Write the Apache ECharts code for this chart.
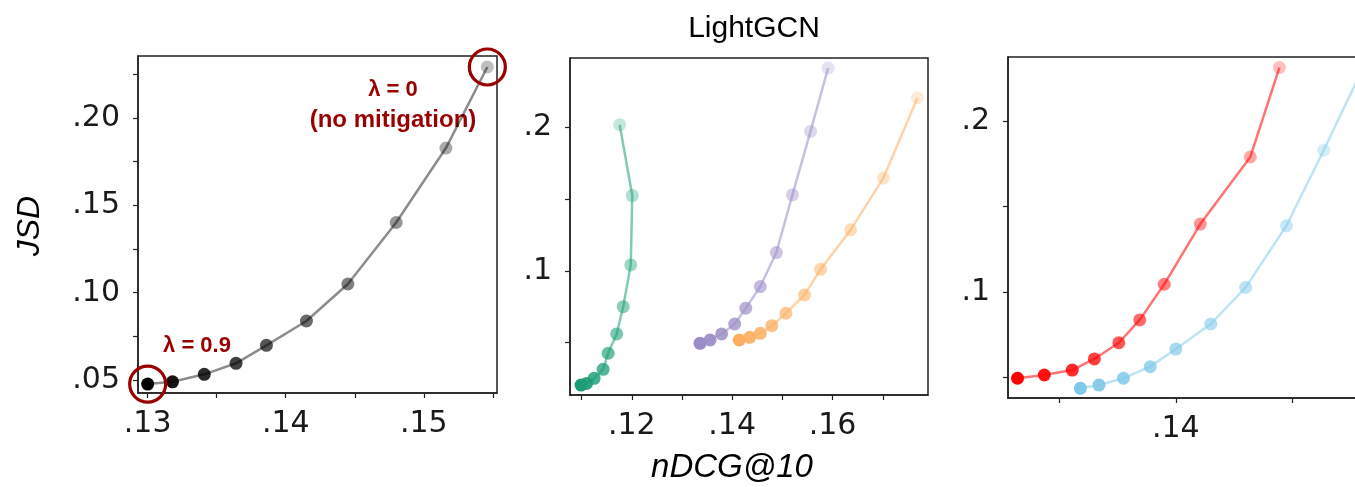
<!DOCTYPE html>
<html>
<head>
<meta charset="utf-8">
<script src="https://cdn.jsdelivr.net/npm/echarts@6/dist/echarts.min.js"></script>
<style>
  html, body { margin: 0; padding: 0; background: #fff; }
  #chart { width: 1355px; height: 487px; }
</style>
</head>
<body>
<div id="chart"></div>
<script>
// lambda per point, from 0 (no mitigation) to 0.9
const lambdas = [0, 0.1, 0.2, 0.3, 0.4, 0.5, 0.6, 0.7, 0.8, 0.9];

// panel 1 (gray)
const grayX = [0.1546, 0.1516, 0.1480, 0.1445, 0.1415, 0.1386, 0.1364, 0.1341, 0.1318, 0.1300];
const grayY = [0.2292, 0.1828, 0.1402, 0.1050, 0.0838, 0.0699, 0.0596, 0.0533, 0.0490, 0.0477];

// panel 2
const greenX = [0.1176, 0.1201, 0.1198, 0.1183, 0.1170, 0.1153, 0.1143, 0.1125, 0.1110, 0.1099];
const greenY = [0.2019, 0.1525, 0.1042, 0.0751, 0.0561, 0.0426, 0.0314, 0.0251, 0.0216, 0.0204];
const purpleX = [0.1591, 0.1556, 0.1520, 0.1488, 0.1456, 0.1427, 0.1405, 0.1379, 0.1356, 0.1336];
const purpleY = [0.2414, 0.1972, 0.1530, 0.1128, 0.0891, 0.0740, 0.0630, 0.0561, 0.0519, 0.0495];
const orangeX = [0.1769, 0.1701, 0.1636, 0.1576, 0.1544, 0.1507, 0.1479, 0.1456, 0.1435, 0.1414];
const orangeY = [0.2205, 0.1647, 0.1286, 0.1011, 0.0832, 0.0705, 0.0618, 0.0565, 0.0537, 0.0519];

// panel 3
const redX = [0.1489, 0.1464, 0.1421, 0.1390, 0.1369, 0.1351, 0.1330, 0.1311, 0.1287, 0.1264];
const redY = [0.2315, 0.1791, 0.1397, 0.1044, 0.0835, 0.0701, 0.0606, 0.0541, 0.0512, 0.0493];
const blueX = [0.1560, 0.1527, 0.1495, 0.1460, 0.1430, 0.1400, 0.1378, 0.1355, 0.1334, 0.1318];
const blueY = [0.2300, 0.1830, 0.1387, 0.1026, 0.0811, 0.0664, 0.0561, 0.0493, 0.0453, 0.0434];

// ticks and labels
const p1XTicks = [0.13, 0.135, 0.14, 0.145, 0.15, 0.155];
const p1XLabels = [0.13, 0.14, 0.15];
const p1YTicks = [0.05, 0.075, 0.10, 0.125, 0.15, 0.175, 0.20, 0.225];
const p1YLabels = [0.05, 0.10, 0.15, 0.20];
const p2XTicks = [0.11, 0.12, 0.13, 0.14, 0.15, 0.16, 0.17];
const p2XLabels = [0.12, 0.14, 0.16];
const p2YTicks = [0.05, 0.1, 0.15, 0.2];
const p2YLabels = [0.1, 0.2];
const p3XTicks = [0.13, 0.14, 0.15];
const p3XLabels = [0.14];
const p3YTicks = [0.05, 0.1, 0.15, 0.2];
const p3YLabels = [0.1, 0.2];

const chart = echarts.init(document.getElementById('chart'));

const labelFont = { fontFamily: 'DejaVu Sans', fontSize: 30, color: '#1a1a1a' };
const darkRed = '#990000';

function fmt(dec) {
    return function (v) {
        return v.toFixed(dec).replace(/^0/, '');
    };
}

function makeX(idx, min, max, ticks, labels, dec) {
    return {
        type: 'value', gridIndex: idx, min: min, max: max,
        splitLine: { show: false },
        axisLine: { show: true, onZero: false, lineStyle: { color: '#222', width: 1.5 } },
        axisTick: { show: true, length: 5, customValues: ticks, lineStyle: { color: '#222', width: 1.2 } },
        axisLabel: Object.assign({ margin: 16, customValues: labels, formatter: fmt(dec) }, labelFont)
    };
}

function makeY(idx, min, max, ticks, labels, dec) {
    return {
        type: 'value', gridIndex: idx, min: min, max: max,
        splitLine: { show: false },
        axisLine: { show: true, onZero: false, lineStyle: { color: '#222', width: 1.5 } },
        axisTick: { show: true, length: 5, customValues: ticks, lineStyle: { color: '#222', width: 1.2 } },
        axisLabel: Object.assign({ margin: 18, customValues: labels, formatter: fmt(dec) }, labelFont)
    };
}

// points fade from dark (lambda 0.9) to light (lambda 0)
function pts(xs, ys) {
    return xs.map(function (x, i) {
        return { value: [x, ys[i]], itemStyle: { opacity: 0.25 + 0.75 * lambdas[i] / 0.9 } };
    });
}

function curve(idx, xs, ys, color, lineOp) {
    return {
        type: 'line', xAxisIndex: idx, yAxisIndex: idx,
        data: pts(xs, ys),
        symbol: 'circle', symbolSize: 13,
        itemStyle: { color: color },
        lineStyle: { color: color, width: 2.5, opacity: lineOp },
        silent: true, animation: false, z: 3
    };
}

const n = lambdas.length - 1;

function box(left, top, width, height) {
    return {
        left: left, top: top, width: width, height: height,
        outerBoundsMode: 'none', containLabel: false,
        show: true, borderColor: '#222', borderWidth: 1.5, backgroundColor: '#fff'
    };
}

const option = {
    animation: false,
    backgroundColor: '#fff',
    title: {
        text: 'LightGCN', left: 749, top: 9, textAlign: 'center',
        textStyle: { fontFamily: 'Liberation Sans', fontSize: 30, fontWeight: 'normal', color: '#000' }
    },
    grid: [
        box(138, 56, 359, 337),
        box(570, 58, 358, 337),
        box(1008, 57, 372, 341)
    ],
    xAxis: [
        makeX(0, 0.1293, 0.1553, p1XTicks, p1XLabels, 2),
        makeX(1, 0.1077, 0.1790, p2XTicks, p2XLabels, 2),
        makeX(2, 0.12558, 0.15754, p3XTicks, p3XLabels, 2)
    ],
    yAxis: [
        makeY(0, 0.0426, 0.2355, p1YTicks, p1YLabels, 2),
        makeY(1, 0.0135, 0.2484, p2YTicks, p2YLabels, 1),
        makeY(2, 0.0377, 0.2377, p3YTicks, p3YLabels, 1)
    ],
    series: [
        curve(0, grayX, grayY, '#000000', 0.45),
        curve(1, greenX, greenY, '#1b9e77', 0.55),
        curve(1, purpleX, purpleY, '#9a8cc6', 0.55),
        curve(1, orangeX, orangeY, '#fdae61', 0.55),
        curve(2, redX, redY, '#ff0000', 0.55),
        curve(2, blueX, blueY, '#7ec8e8', 0.5),
        {
            // highlight circles around lambda = 0 and lambda = 0.9
            type: 'scatter', xAxisIndex: 0, yAxisIndex: 0,
            data: [[grayX[0], grayY[0]], [grayX[n], grayY[n]]],
            symbol: 'circle', symbolSize: 36,
            itemStyle: { color: 'rgba(0,0,0,0)', borderColor: darkRed, borderWidth: 3.2, opacity: 1 },
            silent: true, z: 5
        }
    ],
    graphic: [
        {
            type: 'text', position: [393, 90],
            style: { text: 'λ = 0', x: 0, y: 0, textAlign: 'center', textVerticalAlign: 'middle',
                     font: 'bold 22px "Liberation Sans"', fill: darkRed }
        },
        {
            type: 'text', position: [393, 120],
            style: { text: '(no mitigation)', x: 0, y: 0, textAlign: 'center', textVerticalAlign: 'middle',
                     font: 'bold 24px "Liberation Sans"', fill: darkRed }
        },
        {
            type: 'text', position: [197, 346],
            style: { text: 'λ = 0.9', x: 0, y: 0, textAlign: 'center', textVerticalAlign: 'middle',
                     font: 'bold 22px "Liberation Sans"', fill: darkRed }
        },
        {
            type: 'text', position: [30, 226], rotation: Math.PI / 2,
            style: { text: 'JSD', x: 0, y: 0, textAlign: 'center', textVerticalAlign: 'middle',
                     font: 'italic 32px "Liberation Sans"', fill: '#000' }
        },
        {
            type: 'text', position: [732, 468],
            style: { text: 'nDCG@10', x: 0, y: 0, textAlign: 'center', textVerticalAlign: 'middle',
                     font: 'italic 33px "Liberation Sans"', fill: '#000' }
        }
    ]
};

chart.setOption(option);
</script>
</body>
</html>
